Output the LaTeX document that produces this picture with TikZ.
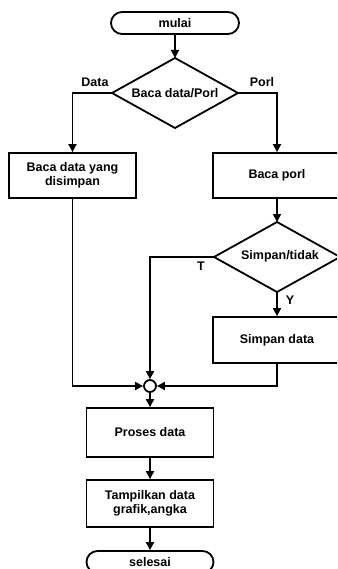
\documentclass[tikz,border=0pt]{standalone}
\usepackage{fontspec}
\setmainfont{Liberation Sans}
\usetikzlibrary{arrows.meta}
\begin{document}
\begin{tikzpicture}[x=1pt,y=-1pt,
  every node/.style={font=\bfseries\fontsize{12.5}{14}\selectfont, inner sep=0pt, align=center},
  proc/.style={draw, line width=1.8pt, minimum width=127pt},
  term/.style={draw, line width=1.8pt, minimum width=128pt, minimum height=22pt, rounded corners=11pt},
  dec/.style={draw, line width=1.8pt},
  conn/.style={line width=1.8pt, -{Triangle[length=8pt,width=8pt]}},
  lbl/.style={font=\bfseries\fontsize{12.5}{14}\selectfont}]
\useasboundingbox (0,0) rectangle (337,569);
\clip (0,0) rectangle (337,569);
% nodes
\node[term] (start) at (175,23) {mulai};
\draw[dec] (175,58) -- (238,93) -- (175,128) -- (112,93) -- cycle;
\node (d1) at (175,93) {Baca data/Porl};
\coordinate (d1t) at (175,58);
\coordinate (d1l) at (112,93);
\coordinate (d1r) at (238,93);
\node[proc, minimum height=45pt] (readsaved) at (72.5,175.5) {Baca data yang\\disimpan};
\node[proc, minimum height=45pt, minimum width=128pt] (readport) at (277,175.5) {Baca porl};
\draw[dec] (277,222) -- (340,257) -- (277,292) -- (214,257) -- cycle;
\node (d2) at (280,256) {Simpan/tidak};
\coordinate (d2t) at (277,222);
\coordinate (d2l) at (214,257);
\coordinate (d2b) at (277,292);
\node[proc, minimum height=46pt, minimum width=128pt] (save) at (277,340) {Simpan data};
\node[draw, circle, line width=1.8pt, minimum size=12pt] (join) at (150,386) {};
\node[proc, minimum height=49pt] (proc) at (150,432.5) {Proses data};
\node[proc, minimum height=47pt] (show) at (150,503.5) {Tampilkan data\\grafik,angka};
\node[term, minimum width=127pt] (end) at (150,562) {selesai};
% labels
\node[lbl] at (95,82) {Data};
\node[lbl] at (262,82) {Porl};
\node[lbl] at (201,266) {T};
\node[lbl] at (290,300) {Y};
% connectors
\draw[conn] (start) -- (d1t);
\draw[conn] (d1l) -| (readsaved);
\draw[conn] (d1r) -| (readport);
\draw[conn] (readport) -- (d2t);
\draw[conn] (d2b) -- (save);
\draw[conn] (d2l) -| (join);
\draw[conn] (readsaved) |- (join);
\draw[conn] (save) |- (join);
\draw[conn] (join) -- (proc);
\draw[conn] (proc) -- (show);
\draw[conn] (show) -- (end);
\end{tikzpicture}
\end{document}
